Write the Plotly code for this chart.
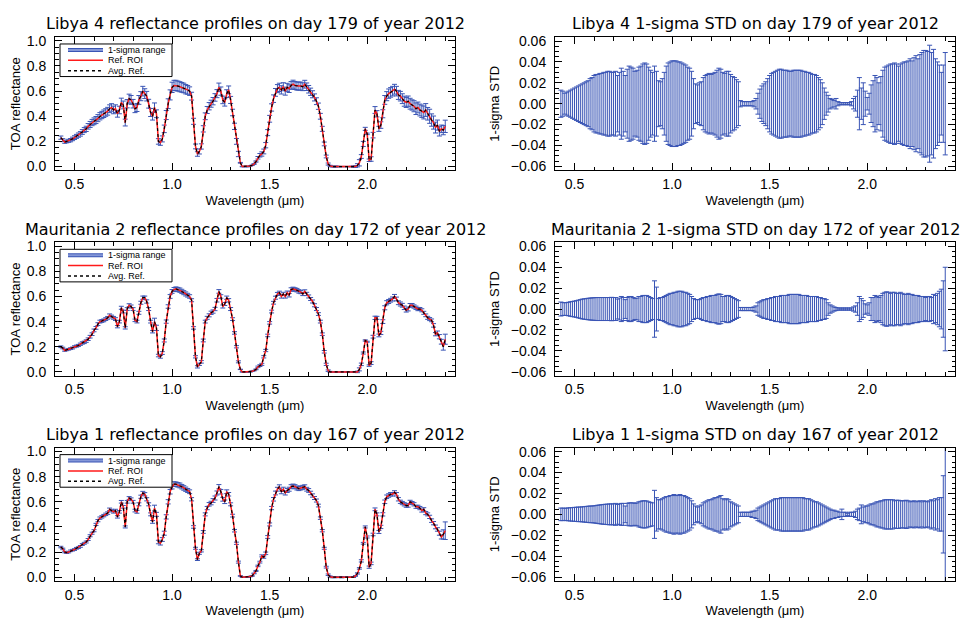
import plotly.graph_objects as go

# ---------------- data ----------------
WAVELENGTH_NM = [
    430, 440, 450, 460, 470, 480, 490, 500, 510, 520,
    530, 540, 550, 560, 570, 580, 590, 600, 610, 620,
    630, 640, 650, 660, 670, 680, 690, 700, 710, 720,
    730, 740, 750, 760, 770, 780, 790, 800, 810, 820,
    830, 840, 850, 860, 870, 880, 890, 900, 910, 920,
    930, 940, 950, 960, 970, 980, 990, 1000, 1010, 1020,
    1030, 1040, 1050, 1060, 1070, 1080, 1090, 1100, 1110, 1120,
    1130, 1140, 1150, 1160, 1170, 1180, 1190, 1200, 1210, 1220,
    1230, 1240, 1250, 1260, 1270, 1280, 1290, 1300, 1310, 1320,
    1330, 1340, 1350, 1360, 1370, 1380, 1390, 1400, 1410, 1420,
    1430, 1440, 1450, 1460, 1470, 1480, 1490, 1500, 1510, 1520,
    1530, 1540, 1550, 1560, 1570, 1580, 1590, 1600, 1610, 1620,
    1630, 1640, 1650, 1660, 1670, 1680, 1690, 1700, 1710, 1720,
    1730, 1740, 1750, 1760, 1770, 1780, 1790, 1800, 1810, 1820,
    1830, 1840, 1850, 1860, 1870, 1880, 1890, 1900, 1910, 1920,
    1930, 1940, 1950, 1960, 1970, 1980, 1990, 2000, 2010, 2020,
    2030, 2040, 2050, 2060, 2070, 2080, 2090, 2100, 2110, 2120,
    2130, 2140, 2150, 2160, 2170, 2180, 2190, 2200, 2210, 2220,
    2230, 2240, 2250, 2260, 2270, 2280, 2290, 2300, 2310, 2320,
    2330, 2340, 2350, 2360, 2370, 2380, 2390, 2400,
]

LIBYA4_REF = [
    0.23, 0.21, 0.195, 0.20, 0.205, 0.21, 0.22, 0.23, 0.24, 0.25,
    0.26, 0.275, 0.29, 0.30, 0.32, 0.335, 0.35, 0.36, 0.37, 0.385,
    0.40, 0.41, 0.42, 0.43, 0.44, 0.46, 0.47, 0.45, 0.46, 0.42,
    0.45, 0.51, 0.49, 0.35, 0.50, 0.54, 0.53, 0.50, 0.46, 0.47,
    0.53, 0.56, 0.60, 0.58, 0.56, 0.50, 0.43, 0.40, 0.47, 0.42,
    0.20, 0.19, 0.22, 0.30, 0.41, 0.50, 0.57, 0.63, 0.645, 0.645,
    0.64, 0.635, 0.63, 0.625, 0.615, 0.61, 0.60, 0.56, 0.36, 0.16,
    0.10, 0.12, 0.16, 0.30, 0.40, 0.45, 0.48, 0.50, 0.52, 0.55,
    0.58, 0.63, 0.60, 0.53, 0.51, 0.58, 0.61, 0.53, 0.43, 0.32,
    0.20, 0.10, 0.03, 0.0, 0.0, 0.0, 0.0, 0.005, 0.01, 0.02,
    0.04, 0.07, 0.09, 0.10, 0.12, 0.17, 0.27, 0.38, 0.47, 0.54,
    0.59, 0.62, 0.63, 0.61, 0.635, 0.60, 0.63, 0.62, 0.645, 0.655,
    0.645, 0.64, 0.64, 0.64, 0.635, 0.655, 0.635, 0.615, 0.595, 0.575,
    0.55, 0.52, 0.48, 0.40, 0.30, 0.18, 0.08, 0.02, 0.005, 0.0,
    0.0, 0.0, 0.0, 0.0, 0.0, 0.0, 0.0, 0.0, 0.0, 0.0,
    0.0, 0.0, 0.01, 0.03, 0.08, 0.18, 0.30, 0.26, 0.05, 0.06,
    0.25, 0.45, 0.42, 0.30, 0.33, 0.42, 0.53, 0.56, 0.58, 0.59,
    0.60, 0.615, 0.60, 0.57, 0.56, 0.54, 0.52, 0.51, 0.52, 0.50,
    0.49, 0.48, 0.46, 0.47, 0.45, 0.44, 0.43, 0.45, 0.42, 0.40,
    0.37, 0.35, 0.31, 0.33, 0.28, 0.30, 0.29, 0.32,
]

LIBYA4_STD = [
    0.013, 0.012, 0.010, 0.011, 0.012, 0.013, 0.014, 0.015, 0.016, 0.017,
    0.018, 0.019, 0.020, 0.021, 0.022, 0.024, 0.025, 0.027, 0.028, 0.028,
    0.029, 0.029, 0.030, 0.030, 0.031, 0.031, 0.030, 0.030, 0.031, 0.027,
    0.030, 0.034, 0.031, 0.027, 0.033, 0.036, 0.035, 0.034, 0.031, 0.032,
    0.035, 0.036, 0.038, 0.039, 0.038, 0.035, 0.032, 0.030, 0.036, 0.031,
    0.022, 0.021, 0.024, 0.030, 0.036, 0.039, 0.040, 0.041, 0.041, 0.041,
    0.040, 0.040, 0.039, 0.038, 0.037, 0.035, 0.034, 0.031, 0.024, 0.019,
    0.018, 0.020, 0.021, 0.025, 0.027, 0.028, 0.029, 0.028, 0.029, 0.030,
    0.032, 0.034, 0.033, 0.030, 0.029, 0.031, 0.031, 0.028, 0.026, 0.025,
    0.023, 0.021, 0.003, 0.002, 0.002, 0.002, 0.002, 0.002, 0.002, 0.003,
    0.005, 0.010, 0.014, 0.017, 0.019, 0.021, 0.024, 0.027, 0.029, 0.030,
    0.031, 0.032, 0.033, 0.033, 0.032, 0.032, 0.032, 0.031, 0.031, 0.032,
    0.032, 0.032, 0.032, 0.032, 0.031, 0.031, 0.030, 0.030, 0.029, 0.028,
    0.028, 0.027, 0.025, 0.023, 0.020, 0.015, 0.011, 0.008, 0.005, 0.004,
    0.003, 0.005, 0.002, 0.001, 0.001, 0.001, 0.001, 0.001, 0.001, 0.002,
    0.005, 0.007, 0.013, 0.025, 0.015, 0.020, 0.012, 0.006, 0.010, 0.018,
    0.022, 0.027, 0.025, 0.020, 0.026, 0.032, 0.035, 0.036, 0.037, 0.038,
    0.038, 0.039, 0.038, 0.036, 0.038, 0.039, 0.040, 0.040, 0.041, 0.043,
    0.041, 0.044, 0.046, 0.043, 0.047, 0.049, 0.051, 0.051, 0.050, 0.056,
    0.049, 0.052, 0.043, 0.040, 0.037, 0.030, 0.037, 0.049,
]

MAURITANIA2_REF = [
    0.20, 0.19, 0.17, 0.175, 0.18, 0.185, 0.19, 0.20, 0.205, 0.21,
    0.22, 0.23, 0.235, 0.245, 0.26, 0.28, 0.30, 0.33, 0.35, 0.38,
    0.40, 0.405, 0.41, 0.42, 0.43, 0.45, 0.44, 0.43, 0.42, 0.36,
    0.40, 0.51, 0.48, 0.35, 0.50, 0.53, 0.52, 0.50, 0.41, 0.40,
    0.47, 0.55, 0.59, 0.59, 0.56, 0.50, 0.40, 0.32, 0.40, 0.35,
    0.13, 0.12, 0.15, 0.25, 0.40, 0.52, 0.60, 0.64, 0.655, 0.66,
    0.655, 0.65, 0.64, 0.63, 0.62, 0.61, 0.60, 0.57, 0.35, 0.12,
    0.04, 0.06, 0.08, 0.25, 0.40, 0.43, 0.45, 0.47, 0.48, 0.50,
    0.57, 0.64, 0.60, 0.52, 0.54, 0.59, 0.57, 0.50, 0.42, 0.31,
    0.20, 0.08, 0.02, 0.0, 0.0, 0.0, 0.0, 0.0, 0.005, 0.01,
    0.02, 0.04, 0.05, 0.06, 0.12, 0.17, 0.29, 0.39, 0.48, 0.55,
    0.59, 0.62, 0.63, 0.60, 0.62, 0.60, 0.63, 0.61, 0.655, 0.66,
    0.655, 0.65, 0.64, 0.635, 0.62, 0.64, 0.62, 0.60, 0.58, 0.56,
    0.53, 0.50, 0.46, 0.40, 0.30, 0.16, 0.06, 0.01, 0.0, 0.0,
    0.0, 0.0, 0.0, 0.0, 0.0, 0.0, 0.0, 0.0, 0.0, 0.0,
    0.0, 0.0, 0.0, 0.02, 0.06, 0.15, 0.25, 0.24, 0.05, 0.07,
    0.28, 0.43, 0.43, 0.29, 0.31, 0.40, 0.51, 0.55, 0.56, 0.57,
    0.58, 0.60, 0.58, 0.55, 0.54, 0.53, 0.51, 0.49, 0.50, 0.53,
    0.53, 0.52, 0.51, 0.50, 0.50, 0.49, 0.47, 0.45, 0.43, 0.42,
    0.41, 0.37, 0.30, 0.31, 0.28, 0.24, 0.20, 0.26,
]

MAURITANIA2_STD = [
    0.0067, 0.0062, 0.006, 0.0062, 0.0065, 0.007, 0.0073, 0.0076, 0.008, 0.0085,
    0.009, 0.0095, 0.0098, 0.010, 0.0103, 0.0105, 0.0107, 0.0108, 0.011, 0.011,
    0.011, 0.011, 0.011, 0.011, 0.011, 0.011, 0.0112, 0.011, 0.011, 0.0095,
    0.0105, 0.012, 0.011, 0.009, 0.011, 0.012, 0.012, 0.011, 0.010, 0.0105,
    0.012, 0.012, 0.013, 0.013, 0.013, 0.012, 0.011, 0.010, 0.027, 0.021,
    0.010, 0.011, 0.011, 0.012, 0.013, 0.014, 0.015, 0.015, 0.016, 0.016,
    0.017, 0.017, 0.017, 0.016, 0.016, 0.015, 0.014, 0.012, 0.010, 0.009,
    0.009, 0.009, 0.010, 0.011, 0.011, 0.012, 0.012, 0.013, 0.013, 0.013,
    0.014, 0.0145, 0.014, 0.012, 0.012, 0.013, 0.013, 0.012, 0.011, 0.010,
    0.009, 0.008, 0.0015, 0.0015, 0.0015, 0.0015, 0.0015, 0.0015, 0.0015, 0.002,
    0.003, 0.006, 0.007, 0.008, 0.009, 0.009, 0.010, 0.010, 0.011, 0.011,
    0.012, 0.012, 0.012, 0.013, 0.013, 0.013, 0.013, 0.014, 0.014, 0.014,
    0.014, 0.014, 0.014, 0.013, 0.013, 0.013, 0.013, 0.012, 0.012, 0.012,
    0.012, 0.012, 0.011, 0.011, 0.010, 0.010, 0.009, 0.006, 0.004, 0.003,
    0.002, 0.0015, 0.001, 0.001, 0.001, 0.001, 0.001, 0.001, 0.001, 0.001,
    0.002, 0.003, 0.006, 0.012, 0.010, 0.008, 0.005, 0.004, 0.006, 0.011,
    0.011, 0.013, 0.012, 0.011, 0.013, 0.015, 0.016, 0.0165, 0.016, 0.015,
    0.016, 0.016, 0.015, 0.015, 0.016, 0.015, 0.014, 0.014, 0.015, 0.014,
    0.014, 0.013, 0.013, 0.013, 0.012, 0.012, 0.012, 0.011, 0.012, 0.012,
    0.011, 0.014, 0.013, 0.015, 0.017, 0.019, 0.027, 0.040,
]

LIBYA1_REF = [
    0.24, 0.225, 0.20, 0.195, 0.20, 0.21, 0.215, 0.22, 0.23, 0.235,
    0.245, 0.26, 0.27, 0.28, 0.30, 0.33, 0.35, 0.37, 0.42, 0.45,
    0.47, 0.48, 0.49, 0.50, 0.51, 0.54, 0.53, 0.52, 0.53, 0.48,
    0.52, 0.60, 0.56, 0.40, 0.60, 0.63, 0.62, 0.60, 0.53, 0.52,
    0.58, 0.64, 0.67, 0.66, 0.62, 0.58, 0.50, 0.44, 0.55, 0.50,
    0.28, 0.27, 0.30, 0.35, 0.48, 0.60, 0.68, 0.72, 0.74, 0.74,
    0.735, 0.73, 0.72, 0.71, 0.70, 0.69, 0.68, 0.62, 0.40, 0.23,
    0.14, 0.19, 0.21, 0.36, 0.50, 0.55, 0.58, 0.59, 0.61, 0.63,
    0.67, 0.72, 0.68, 0.62, 0.60, 0.68, 0.66, 0.58, 0.49, 0.37,
    0.27, 0.12, 0.01, 0.0, 0.0, 0.0, 0.0, 0.005, 0.01, 0.03,
    0.05, 0.09, 0.12, 0.17, 0.16, 0.19, 0.32, 0.42, 0.55, 0.62,
    0.67, 0.70, 0.72, 0.68, 0.70, 0.67, 0.69, 0.70, 0.72, 0.725,
    0.72, 0.71, 0.705, 0.71, 0.715, 0.72, 0.70, 0.69, 0.67, 0.65,
    0.63, 0.61, 0.57, 0.47, 0.37, 0.23, 0.08, 0.02, 0.005, 0.0,
    0.0, 0.0, 0.0, 0.0, 0.0, 0.0, 0.0, 0.0, 0.0, 0.0,
    0.0, 0.01, 0.03, 0.07, 0.13, 0.27, 0.40, 0.32, 0.08, 0.11,
    0.34, 0.54, 0.50, 0.36, 0.40, 0.50, 0.60, 0.64, 0.65, 0.66,
    0.66, 0.675, 0.66, 0.62, 0.60, 0.59, 0.58, 0.57, 0.57, 0.60,
    0.59, 0.58, 0.56, 0.56, 0.55, 0.53, 0.54, 0.51, 0.50, 0.48,
    0.45, 0.43, 0.40, 0.38, 0.35, 0.32, 0.34, 0.37,
]

LIBYA1_STD = [
    0.006, 0.006, 0.0058, 0.006, 0.0062, 0.0064, 0.0065, 0.0067, 0.0068, 0.007,
    0.007, 0.0072, 0.0074, 0.0076, 0.0078, 0.008, 0.008, 0.0082, 0.0085, 0.0088,
    0.009, 0.0093, 0.0095, 0.0097, 0.0098, 0.010, 0.010, 0.010, 0.0105, 0.0095,
    0.010, 0.0105, 0.0105, 0.008, 0.0105, 0.011, 0.011, 0.011, 0.0105, 0.011,
    0.012, 0.0125, 0.013, 0.013, 0.0128, 0.012, 0.0115, 0.011, 0.023, 0.016,
    0.014, 0.014, 0.015, 0.016, 0.017, 0.017, 0.018, 0.018, 0.019, 0.018,
    0.018, 0.019, 0.018, 0.018, 0.017, 0.016, 0.015, 0.013, 0.010, 0.008,
    0.007, 0.008, 0.009, 0.011, 0.012, 0.013, 0.014, 0.014, 0.015, 0.016,
    0.016, 0.017, 0.018, 0.015, 0.014, 0.015, 0.014, 0.012, 0.011, 0.010,
    0.009, 0.008, 0.002, 0.002, 0.002, 0.002, 0.002, 0.002, 0.003, 0.003,
    0.004, 0.006, 0.007, 0.008, 0.009, 0.010, 0.011, 0.012, 0.013, 0.014,
    0.015, 0.015, 0.015, 0.016, 0.016, 0.016, 0.016, 0.016, 0.016, 0.016,
    0.016, 0.016, 0.016, 0.016, 0.016, 0.015, 0.015, 0.015, 0.014, 0.013,
    0.012, 0.012, 0.011, 0.010, 0.009, 0.008, 0.007, 0.006, 0.005, 0.004,
    0.004, 0.003, 0.003, 0.002, 0.005, 0.002, 0.002, 0.001, 0.002, 0.002,
    0.002, 0.003, 0.005, 0.006, 0.009, 0.007, 0.008, 0.008, 0.009, 0.010,
    0.010, 0.011, 0.012, 0.012, 0.013, 0.013, 0.014, 0.014, 0.014, 0.014,
    0.014, 0.013, 0.0135, 0.0135, 0.013, 0.013, 0.013, 0.0135, 0.013, 0.012,
    0.0125, 0.013, 0.012, 0.0125, 0.013, 0.012, 0.013, 0.0125, 0.012, 0.013,
    0.014, 0.013, 0.015, 0.014, 0.016, 0.016, 0.037, 0.070,
]

SITES = ["Libya 4", "Mauritania 2", "Libya 1"]
DAYS = [179, 172, 167]
YEAR = 2012
REF_SERIES = [LIBYA4_REF, MAURITANIA2_REF, LIBYA1_REF]
# the averaged reflectance coincides with the ROI reflectance at this resolution
AVG_SERIES = [LIBYA4_REF, MAURITANIA2_REF, LIBYA1_REF]
STD_SERIES = [LIBYA4_STD, MAURITANIA2_STD, LIBYA1_STD]
LEGEND_LABELS = ["1-sigma range", "Ref. ROI", "Avg. Ref."]

for s in REF_SERIES + STD_SERIES:
    assert len(s) == len(WAVELENGTH_NM)

WL = [w / 1000.0 for w in WAVELENGTH_NM]
CENTER = [0.0 for _ in WL]

# ---------------- layout geometry (pixels of the 969x623 page) ----------------
W, H = 969, 623
COLS = [(55, 455), (555, 955)]
ROWS = [(33.5, 168.5), (241.5, 376.5), (449.5, 584.5)]
FONT = "Liberation Sans, Arial, sans-serif"
TITLE_FONT = "DejaVu Sans, Liberation Sans, sans-serif"
BLUE = "#3a55b5"
LIGHTBLUE = "#8497d8"
RED = "#ff1a1a"


def fx(p):
    return p / W


def fy(p):
    return 1 - p / H


fig = go.Figure()
layout = dict(
    width=W, height=H,
    margin=dict(l=0, r=0, t=0, b=0),
    paper_bgcolor="white", plot_bgcolor="white",
    showlegend=False,
    font=dict(family=FONT, color="black"),
    annotations=[], shapes=[],
)


def axis_common():
    return dict(
        showline=True, linecolor="black", linewidth=1, mirror="allticks",
        ticks="inside", ticklen=7, tickwidth=1, tickcolor="black",
        showgrid=False, zeroline=False,
        tickfont=dict(family=FONT, size=14, color="black"),
    )


for r in range(3):
    top, bot = ROWS[r]
    for c in range(2):
        k = 2 * r + c + 1
        xa = "x" if k == 1 else f"x{k}"
        ya = "y" if k == 1 else f"y{k}"
        left, right = COLS[c]
        xax = axis_common()
        xax.update(
            domain=[fx(left), fx(right)], range=[0.4, 2.45], anchor=ya,
            tick0=0.5, dtick=0.5, tickformat=".1f",
            minor=dict(ticks="inside", ticklen=3.5, tick0=0.4, dtick=0.1, tickcolor="black"),
            title=dict(text="Wavelength (μm)", font=dict(family=FONT, size=13), standoff=4),
            ticklabelstandoff=1,
        )
        yax = axis_common()
        if c == 0:
            yax.update(
                range=[-0.03, 1.03], tick0=0, dtick=0.2, tickformat=".1f",
                minor=dict(ticks="inside", ticklen=3.5, tick0=0, dtick=0.05, tickcolor="black"),
                title=dict(text="TOA reflectance", font=dict(family=FONT, size=13), standoff=3),
            )
        else:
            yax.update(
                range=[-0.0638, 0.0638], tick0=0, dtick=0.02, tickformat=".2f",
                minor=dict(ticks="inside", ticklen=3.5, tick0=0, dtick=0.005, tickcolor="black"),
                title=dict(text="1-sigma STD", font=dict(family=FONT, size=13), standoff=8),
            )
        yax.update(domain=[fy(bot), fy(top)], anchor=xa, ticklabelstandoff=5)
        layout["xaxis" if k == 1 else f"xaxis{k}"] = xax
        layout["yaxis" if k == 1 else f"yaxis{k}"] = yax

        if c == 0:
            title = f"{SITES[r]} reflectance profiles on day {DAYS[r]} of year {YEAR}"
            fig.add_trace(go.Scatter(
                x=WL, y=AVG_SERIES[r], mode="markers", xaxis=xa, yaxis=ya,
                marker=dict(size=1, color="rgba(0,0,0,0)"),
                error_y=dict(type="data", array=STD_SERIES[r], visible=True,
                             color=BLUE, thickness=1, width=2.5),
                name=LEGEND_LABELS[0], hoverinfo="skip"))
            fig.add_trace(go.Scatter(
                x=WL, y=REF_SERIES[r], mode="lines", xaxis=xa, yaxis=ya,
                line=dict(color=RED, width=1.5), name=LEGEND_LABELS[1]))
            fig.add_trace(go.Scatter(
                x=WL, y=AVG_SERIES[r], mode="lines", xaxis=xa, yaxis=ya,
                line=dict(color="black", width=1.2, dash="dot"), name=LEGEND_LABELS[2]))
            # legend box drawn in the upper-left corner of the panel
            lx0, lx1 = 60, 172
            ly0, ly1 = top + 7, top + 40
            layout["shapes"].append(dict(
                type="rect", xref="paper", yref="paper",
                x0=fx(lx0), x1=fx(lx1), y0=fy(ly1), y1=fy(ly0),
                line=dict(color="black", width=1), fillcolor="white", layer="above"))
            offs = [13.0, 23.5, 34.0]
            styles = [dict(color=LIGHTBLUE, width=2),
                      dict(color=RED, width=1.5),
                      dict(color="black", width=1.5, dash="dot")]
            for j in range(3):
                yy = fy(top + offs[j])
                if j == 0:
                    layout["shapes"].append(dict(
                        type="line", xref="paper", yref="paper",
                        x0=fx(68), x1=fx(103), y0=yy, y1=yy,
                        line=dict(color=BLUE, width=4), layer="above"))
                layout["shapes"].append(dict(
                    type="line", xref="paper", yref="paper",
                    x0=fx(68), x1=fx(103), y0=yy, y1=yy,
                    line=styles[j], layer="above"))
                layout["annotations"].append(dict(
                    xref="paper", yref="paper", x=fx(107), y=yy,
                    xanchor="left", yanchor="middle", showarrow=False,
                    text=LEGEND_LABELS[j], borderpad=0,
                    font=dict(family=FONT, size=9, color="black")))
        else:
            title = f"{SITES[r]} 1-sigma STD on day {DAYS[r]} of year {YEAR}"
            fig.add_trace(go.Scatter(
                x=WL, y=CENTER, mode="markers", xaxis=xa, yaxis=ya,
                marker=dict(size=1, color="rgba(0,0,0,0)"),
                error_y=dict(type="data", array=STD_SERIES[r], visible=True,
                             color=BLUE, thickness=1, width=2.5),
                name="1-sigma STD", hoverinfo="skip"))
        layout["annotations"].append(dict(
            xref="paper", yref="paper", x=fx((left + right) / 2), y=fy(top - 13.5),
            xanchor="center", yanchor="middle", showarrow=False, text=title,
            borderpad=0,
            font=dict(family=TITLE_FONT, size=16, color="black")))

fig.update_layout(**layout)
fig.write_html("out.html", config={"displayModeBar": False})
